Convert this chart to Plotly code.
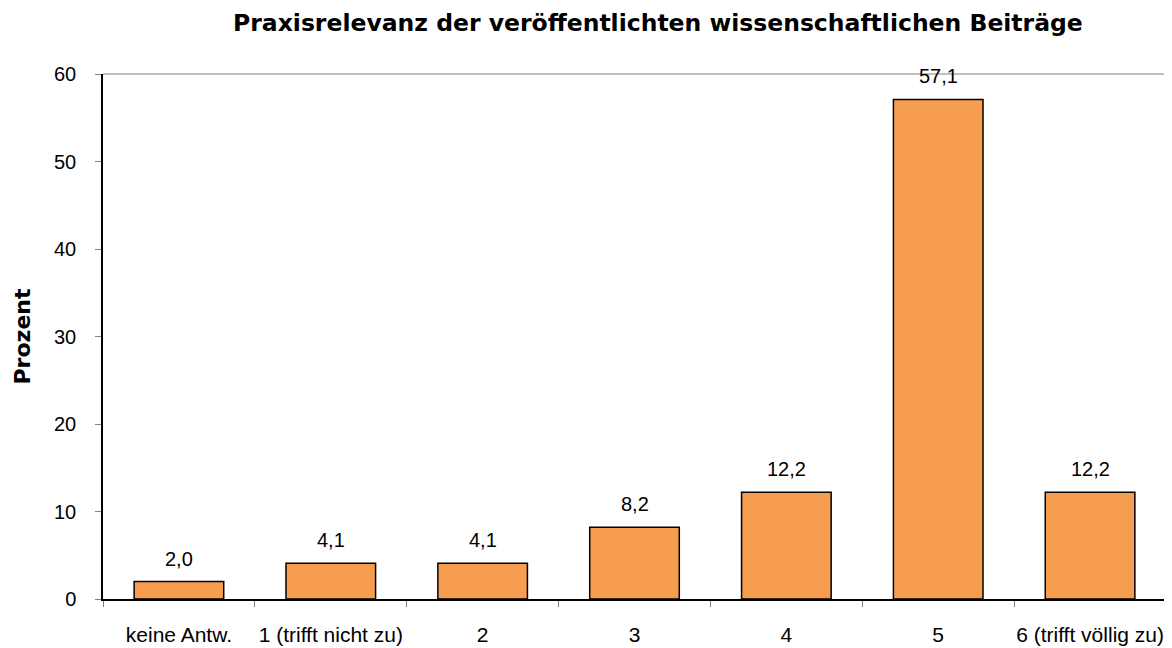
import plotly.graph_objects as go

categories = ["keine Antw.", "1 (trifft nicht zu)", "2", "3", "4", "5", "6 (trifft völlig zu)"]
values = [2.0, 4.1, 4.1, 8.2, 12.2, 57.1, 12.2]
labels = ["2,0", "4,1", "4,1", "8,2", "12,2", "57,1", "12,2"]
title_text = "Praxisrelevanz der veröffentlichten wissenschaftlichen Beiträge"
y_title = "Prozent"

FONT = "Liberation Sans, Arial, sans-serif"
BOLD = "DejaVu Sans, Verdana, sans-serif"

L, R, T, B = 95, 6, 66, 49
W, H = 1164, 640
PW, PH = W - L - R, H - T - B

fig = go.Figure()
fig.add_trace(go.Bar(
    x=categories, y=values,
    marker=dict(color="#F79D50", line=dict(color="black", width=1.5)),
    hoverinfo="skip",
))

for c, v, t in zip(categories, values, labels):
    fig.add_annotation(x=c, y=v, text=t, showarrow=False, yanchor="middle",
                       yshift=23, font=dict(family=FONT, size=20, color="black"))

fig.add_annotation(xref="paper", yref="paper", x=(14 - L) / PW, y=0.5,
                   xanchor="center", yanchor="middle",
                   text="<b>" + y_title + "</b>", textangle=-90, showarrow=False,
                   font=dict(family=BOLD, size=22, color="black"))

fig.add_annotation(xref="paper", yref="paper", x=(650 - L) / PW, y=1 + (T - 15) / PH,
                   xanchor="center", yanchor="middle",
                   text="<b>" + title_text + "</b>", showarrow=False,
                   font=dict(family=BOLD, size=23.5, color="black"))

# gray border top/right
fig.add_shape(type="line", xref="paper", yref="paper", x0=0, x1=1, y0=1, y1=1,
              line=dict(color="#808080", width=1))
fig.add_shape(type="line", xref="paper", yref="paper", x0=1, x1=1, y0=0, y1=1,
              line=dict(color="#808080", width=1))

fig.update_layout(
    width=W, height=H,
    margin=dict(l=L, r=R, t=T, b=B, autoexpand=False),
    paper_bgcolor="white", plot_bgcolor="white",
    bargap=0.41,
    showlegend=False,
    font=dict(family=FONT, size=20, color="black"),
    xaxis=dict(
        showline=True, linecolor="black", linewidth=1.5,
        ticks="outside", tickson="boundaries", ticklen=6, tickcolor="#808080",
        tickfont=dict(family=FONT, size=21, color="black"),
        tickangle=0,
        ticklabelstandoff=16, automargin=False,
        showgrid=False, zeroline=False,
    ),
    yaxis=dict(
        range=[0, 60], dtick=10, showline=True, linecolor="black", linewidth=1.5,
        ticks="outside", ticklen=6, tickcolor="#808080",
        tickfont=dict(family=FONT, size=20, color="black"),
        ticklabelstandoff=15, automargin=False,
        showgrid=False, zeroline=False,
    ),
)

fig.write_html("out.html")
